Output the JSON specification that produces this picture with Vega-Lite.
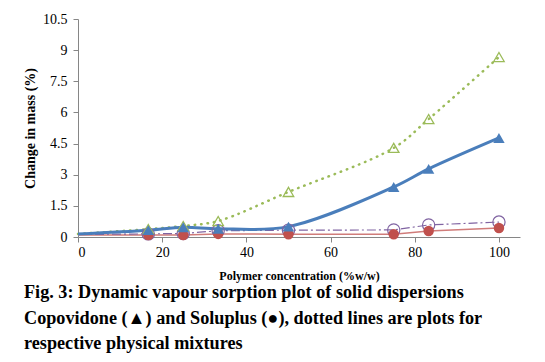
{
  "$schema": "https://vega.github.io/schema/vega-lite/v6.json",
  "width": 442,
  "height": 218,
  "autosize": {"type": "none"},
  "padding": {"left": 78, "top": 19, "right": 25, "bottom": 125},
  "background": "white",
  "config": {
    "view": {"stroke": null},
    "font": "Liberation Serif",
    "axis": {
      "grid": false,
      "domainColor": "#868686",
      "tickColor": "#868686",
      "tickSize": 5,
      "labelFont": "Liberation Serif",
      "labelFontSize": 14,
      "labelColor": "#000000",
      "titleFont": "Liberation Serif",
      "titleFontWeight": "bold",
      "titleColor": "#000000"
    }
  },
  "title": {
    "text": [
      "Fig. 3: Dynamic vapour sorption plot of solid dispersions",
      "Copovidone (▲) and Soluplus (●), dotted lines are plots for",
      "respective physical mixtures"
    ],
    "orient": "bottom",
    "anchor": "start",
    "frame": "group",
    "dx": -54,
    "offset": 3,
    "font": "Liberation Serif",
    "fontSize": 18.2,
    "fontWeight": "bold",
    "color": "#000000",
    "lineHeight": 25.5
  },
  "data": {
    "values": [
      {"series": "Copovidone SD", "x": 0, "y": 0.15},
      {"series": "Copovidone SD", "x": 16.7, "y": 0.33},
      {"series": "Copovidone SD", "x": 25, "y": 0.47},
      {"series": "Copovidone SD", "x": 33.3, "y": 0.4},
      {"series": "Copovidone SD", "x": 50, "y": 0.5},
      {"series": "Copovidone SD", "x": 75, "y": 2.41},
      {"series": "Copovidone SD", "x": 83.3, "y": 3.28},
      {"series": "Copovidone SD", "x": 100, "y": 4.77},
      {"series": "Copovidone PM", "x": 0, "y": 0.15},
      {"series": "Copovidone PM", "x": 16.7, "y": 0.38},
      {"series": "Copovidone PM", "x": 25, "y": 0.53},
      {"series": "Copovidone PM", "x": 33.3, "y": 0.77},
      {"series": "Copovidone PM", "x": 50, "y": 2.17},
      {"series": "Copovidone PM", "x": 75, "y": 4.29},
      {"series": "Copovidone PM", "x": 83.3, "y": 5.68},
      {"series": "Copovidone PM", "x": 100, "y": 8.67},
      {"series": "Soluplus SD", "x": 0, "y": 0.1},
      {"series": "Soluplus SD", "x": 16.7, "y": 0.1},
      {"series": "Soluplus SD", "x": 25, "y": 0.1},
      {"series": "Soluplus SD", "x": 33.3, "y": 0.15},
      {"series": "Soluplus SD", "x": 50, "y": 0.13},
      {"series": "Soluplus SD", "x": 75, "y": 0.13},
      {"series": "Soluplus SD", "x": 83.3, "y": 0.29},
      {"series": "Soluplus SD", "x": 100, "y": 0.43},
      {"series": "Soluplus PM", "x": 0, "y": 0.12},
      {"series": "Soluplus PM", "x": 16.7, "y": 0.15},
      {"series": "Soluplus PM", "x": 25, "y": 0.17},
      {"series": "Soluplus PM", "x": 33.3, "y": 0.3},
      {"series": "Soluplus PM", "x": 50, "y": 0.33},
      {"series": "Soluplus PM", "x": 75, "y": 0.34},
      {"series": "Soluplus PM", "x": 83.3, "y": 0.58},
      {"series": "Soluplus PM", "x": 100, "y": 0.72}
    ]
  },
  "encoding": {
    "x": {
      "field": "x", "type": "quantitative",
      "scale": {"domain": [0, 105], "nice": false},
      "axis": {"values": [0, 20, 40, 60, 80, 100], "labelExpr": "format(datum.value, 'd')", "title": "Polymer concentration (%w/w)", "titleFontSize": 12, "titlePadding": 11, "labelPadding": 3}
    },
    "y": {
      "field": "y", "type": "quantitative",
      "scale": {"domain": [0, 10.5], "nice": false},
      "axis": {"values": [0, 1.5, 3, 4.5, 6, 7.5, 9, 10.5], "labelExpr": "format(datum.value, '.1~f')", "title": "Change in mass (%)", "titleFontSize": 14, "titlePadding": 5, "labelPadding": 6}
    }
  },
  "layer": [
    {
      "transform": [{"filter": "datum.series === 'Soluplus SD'"}],
      "mark": {"type": "line", "color": "#D07C7A", "strokeWidth": 1.5}
    },
    {
      "transform": [{"filter": "datum.series === 'Soluplus PM'"}],
      "mark": {"type": "line", "color": "#8064A2", "strokeWidth": 1.2, "strokeDash": [9, 3, 2, 3]}
    },
    {
      "transform": [{"filter": "datum.series === 'Copovidone PM'"}],
      "mark": {"type": "line", "color": "#9BBB59", "strokeWidth": 2.5, "strokeDash": [0.5, 6], "strokeCap": "round", "interpolate": "catmull-rom"}
    },
    {
      "transform": [{"filter": "datum.series === 'Copovidone SD'"}],
      "mark": {"type": "line", "color": "#4A7EBB", "strokeWidth": 3, "interpolate": "catmull-rom"}
    },
    {
      "transform": [{"filter": "datum.series === 'Soluplus PM' && datum.x > 0"}],
      "mark": {"type": "point", "shape": "circle", "filled": false, "color": "#8064A2", "strokeWidth": 1.2, "size": 150, "opacity": 1}
    },
    {
      "transform": [{"filter": "datum.series === 'Soluplus SD' && datum.x > 0"}],
      "mark": {"type": "point", "shape": "circle", "filled": true, "color": "#C0504D", "size": 110, "opacity": 1}
    },
    {
      "transform": [{"filter": "datum.series === 'Copovidone PM' && datum.x > 0"}],
      "mark": {"type": "point", "shape": "triangle-up", "filled": false, "color": "#9BBB59", "strokeWidth": 1.3, "size": 110, "opacity": 1}
    },
    {
      "transform": [{"filter": "datum.series === 'Copovidone SD' && datum.x > 0"}],
      "mark": {"type": "point", "shape": "triangle-up", "filled": true, "color": "#4A7EBB", "size": 130, "opacity": 1}
    }
  ]
}
